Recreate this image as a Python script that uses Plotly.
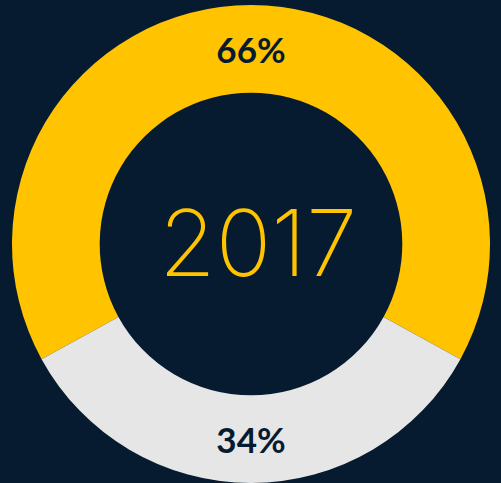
import plotly.graph_objects as go

labels = ["Yes", "No"]
values = [66, 34]
colors = ["#FFC300", "#E6E6E6"]
center_text = "2017"

W, H = 501, 483
fig = go.Figure(go.Pie(
    labels=labels,
    values=values,
    hole=0.633,
    sort=False,
    direction="clockwise",
    rotation=-118.8,
    marker=dict(colors=colors, line=dict(width=0)),
    texttemplate="%{percent:.0%}",
    textposition="inside",
    insidetextorientation="horizontal",
    textfont=dict(family="Lato", size=35, color="#061B30", weight="bold"),
    domain=dict(x=[11 / W, 491 / W], y=[0, 478 / H]),
    hoverinfo="skip",
    showlegend=False,
))
fig.add_annotation(
    text=center_text, x=258 / W, y=1 - 242 / H, xref="paper", yref="paper",
    xanchor="center", yanchor="middle",
    showarrow=False,
    font=dict(family="Inter", size=92, color="#FFC300", weight=200),
)
fig.update_layout(
    width=W, height=H,
    margin=dict(l=0, r=0, t=0, b=0),
    paper_bgcolor="#061B30",
    plot_bgcolor="#061B30",
)
fig.write_html(
    "out.html",
    config={"displayModeBar": False},
    post_script="document.body.style.margin='0';document.body.style.background='#061B30';",
)
